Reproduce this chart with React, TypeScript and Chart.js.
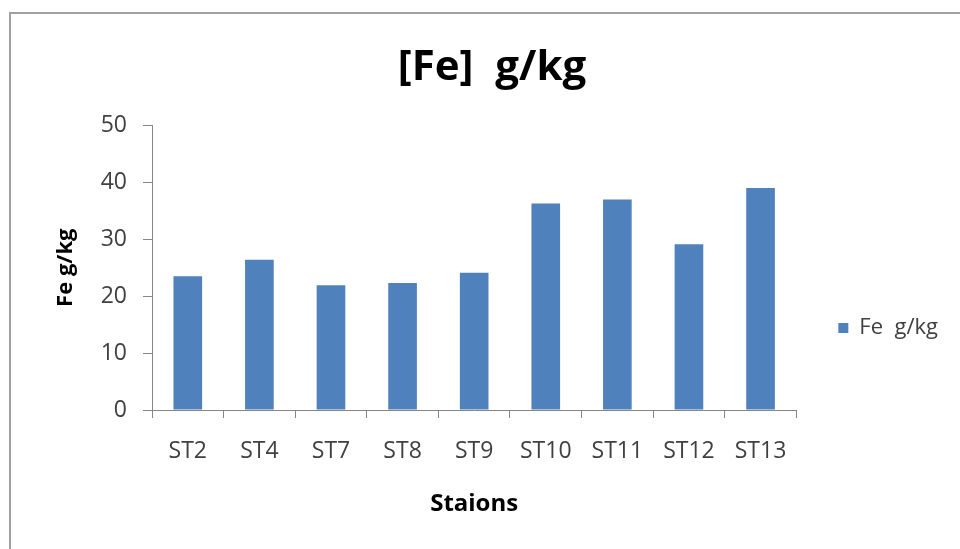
import React, { useEffect, useRef } from "react";
import { Chart, registerables } from "chart.js";

Chart.register(...registerables);

const categories = ["ST2", "ST4", "ST7", "ST8", "ST9", "ST10", "ST11", "ST12", "ST13"];
const feValues = [23.5, 26.4, 21.9, 22.3, 24.1, 36.3, 37.0, 29.1, 39.0];
const seriesLabel = "Fe  g/kg";
const chartTitle = "[Fe]  g/kg";
const xTitle = "Staions";
const yTitle = "Fe g/kg";

const FONT = '"Open Sans", "Noto Sans", sans-serif';
const AXIS = "#868686";
const TEXT = "#404040";

export default function App() {
  const ref = useRef<HTMLCanvasElement | null>(null);

  useEffect(() => {
    if (!ref.current) return;
    const chart = new Chart(ref.current, {
      type: "bar",
      data: {
        labels: categories,
        datasets: [
          {
            label: seriesLabel,
            data: feValues,
            backgroundColor: "#4F81BD",
            borderColor: "#4F81BD",
            borderWidth: 0,
            categoryPercentage: 1,
            barPercentage: 0.4,
          },
        ],
      },
      options: {
        animation: false,
        responsive: false,
        maintainAspectRatio: false,
        layout: { padding: { left: 36, right: 12, top: 0, bottom: -107 } },
        plugins: {
          title: {
            display: true,
            text: chartTitle,
            color: "#000",
            font: { family: FONT, size: 42, weight: "bold" },
            padding: { top: 43, bottom: 32 },
          },
          legend: {
            display: true,
            position: "right",
            labels: {
              boxWidth: 10,
              boxHeight: 10,
              padding: 42,
              color: TEXT,
              font: { family: FONT, size: 22 },
            },
          },
          tooltip: { enabled: false },
        },
        scales: {
          x: {
            grid: {
              display: true,
              drawOnChartArea: false,
              drawTicks: true,
              tickLength: 8,
              color: AXIS,
              offset: true,
            },
            border: { color: AXIS, width: 1 },
            ticks: {
              color: TEXT,
              font: { family: FONT, size: 23 },
              padding: 20,
              maxRotation: 0,
            },
            title: {
              display: true,
              text: xTitle,
              color: "#000",
              font: { family: FONT, size: 24, weight: "bold" },
              padding: { top: 0, bottom: 137 },
            },
            afterFit: (s: any) => {
              s.height = 246;
            },
          },
          y: {
            min: 0,
            max: 50,
            grid: {
              display: true,
              drawOnChartArea: false,
              drawTicks: true,
              tickLength: 9,
              color: AXIS,
            },
            border: { color: AXIS, width: 1 },
            ticks: {
              stepSize: 10,
              color: TEXT,
              font: { family: FONT, size: 23 },
              padding: 16,
            },
            title: {
              display: true,
              text: yTitle,
              color: "#000",
              font: { family: FONT, size: 22, weight: "bold" },
              padding: { top: 17, bottom: 0 },
            },
            afterFit: (s: any) => {
              s.width = 116;
            },
          },
        },
      },
    });
    return () => chart.destroy();
  }, []);

  return (
    <div
      style={{
        position: "absolute",
        left: 0,
        top: 0,
        width: 960,
        height: 549,
        overflow: "hidden",
        background: "#fff",
      }}
    >
      <div
        style={{
          position: "absolute",
          left: 9,
          top: 12,
          width: 1000,
          height: 600,
          borderTop: "2px solid #A0A0A0",
          borderLeft: "2px solid #A0A0A0",
        }}
      />
      <canvas
        ref={ref}
        width={960}
        height={549}
        style={{ position: "absolute", left: 0, top: 0, width: 960, height: 549 }}
      />
    </div>
  );
}
